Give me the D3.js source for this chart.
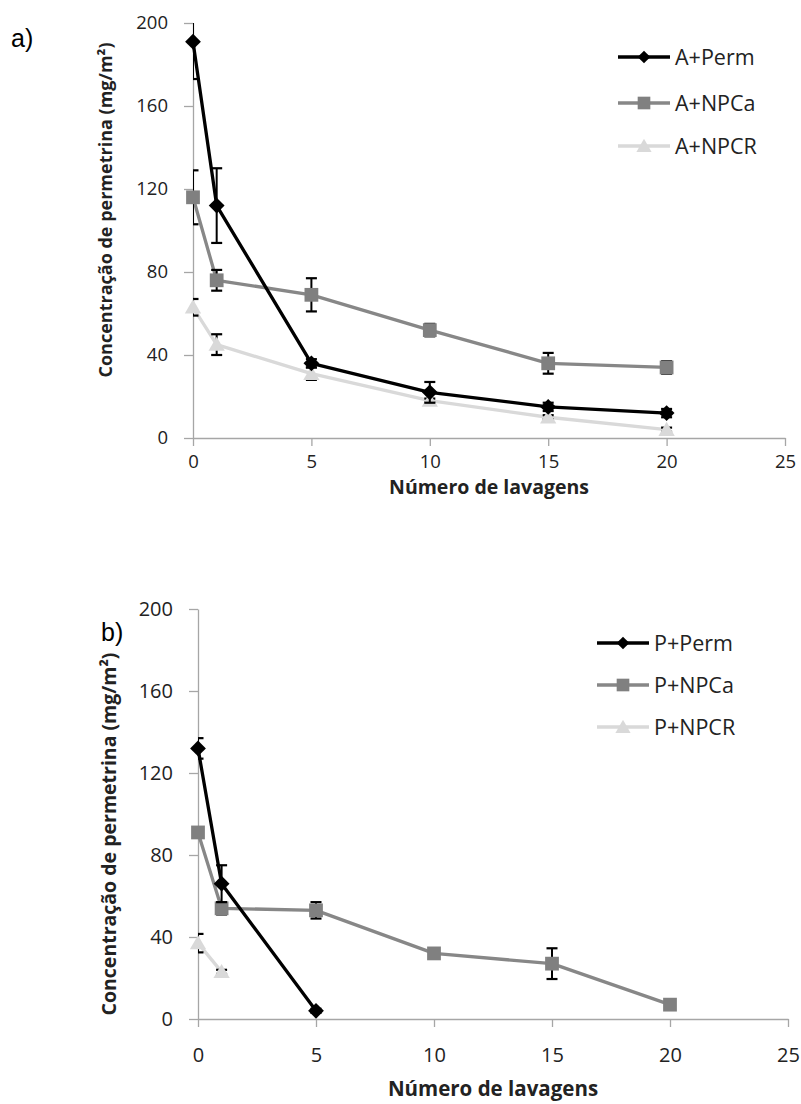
<!DOCTYPE html>
<html><head><meta charset="utf-8">
<script src="https://cdn.jsdelivr.net/npm/d3@7"></script>
<style>body{margin:0;background:#fff}svg{display:block}</style>
</head><body>
<script>
// ---- data ----
const xTicks = [0, 5, 10, 15, 20, 25];
const yTicks = [0, 40, 80, 120, 160, 200];

const xA = [0, 1, 5, 10, 15, 20];
const aPerm = [191, 112, 36, 22, 15, 12];
const aPermErr = [18, 18, 2, 5, 2, 2];
const aNPCa = [116, 76, 69, 52, 36, 34];
const aNPCaErr = [13, 5, 8, 3, 5, 3];
const aNPCR = [63, 45, 31, 18, 10, 4];
const aNPCRErr = [4, 5, 3, 1, 1, 1];

const xBPerm = [0, 1, 5];
const bPerm = [132, 66, 4];
const bPermErr = [5, 9, 1];
const xBNPCa = [0, 1, 5, 10, 15, 20];
const bNPCa = [91, 54, 53, 32, 27, 7];
const bNPCaErr = [2, 3, 4, 2, 7.5, 1];
const xBNPCR = [0, 1];
const bNPCR = [37, 23];
const bNPCRErr = [4.5, 1];

const legendA = ["A+Perm", "A+NPCa", "A+NPCR"];
const legendB = ["P+Perm", "P+NPCa", "P+NPCR"];
const panelLabels = ["a)", "b)"];
const yTitle = "Concentração de permetrina (mg/m²)";
const xTitle = "Número de lavagens";

const colors = ["#000000", "#808080", "#d9d9d9"];
const lineColors = ["#000000", "#878787", "#d9d9d9"];
const shapes = [d3.symbolSquare, d3.symbolSquare, d3.symbolTriangle];
const rotations = [45, 0, 0];

const W = 801, H = 1104;
const svg = d3.select("body").append("svg").attr("width", W).attr("height", H);
const font = "'Open Sans', 'Liberation Sans', sans-serif";

const panels = [
  {label: panelLabels[0], labelPos: [11, 47], left: 193, right: 785, top: 23, bottom: 438,
   yTitleX: 112, yTitleC: 210, yTitleSize: 18, xTitleY: 494, xTitleSize: 19.5, tickSize: 18.5, xPad: 9,
   legendX: [618, 670], legendY: [57, 103, 146], legend: legendA,
   series: [[xA, aPerm, aPermErr], [xA, aNPCa, aNPCaErr], [xA, aNPCR, aNPCRErr]]},
  {label: panelLabels[1], labelPos: [101, 641], left: 198, right: 788, top: 609, bottom: 1019,
   yTitleX: 116, yTitleC: 834, yTitleSize: 19.5, xTitleY: 1096, xTitleSize: 20.5, tickSize: 20, xPad: 21,
   legendX: [597, 649], legendY: [643, 685, 727], legend: legendB,
   series: [[xBPerm, bPerm, bPermErr], [xBNPCa, bNPCa, bNPCaErr], [xBNPCR, bNPCR, bNPCRErr]]}
];

panels.forEach((p, pi) => {
  const x = d3.scaleLinear().domain([0, 25]).range([p.left, p.right]);
  const y = d3.scaleLinear().domain([0, 200]).range([p.bottom, p.top]);
  const g = svg.append("g");
  const axisColor = "#a6a6a6";

  const xa = g.append("g").attr("transform", `translate(0,${p.bottom})`)
    .call(d3.axisBottom(x).tickValues(xTicks).tickSize(8).tickSizeOuter(0).tickPadding(p.xPad));
  const ya = g.append("g").attr("transform", `translate(${p.left},0)`)
    .call(d3.axisLeft(y).tickValues(yTicks).tickSize(9).tickSizeOuter(0).tickPadding(16));
  [xa, ya].forEach(a => {
    a.select(".domain").attr("stroke", axisColor).attr("stroke-width", 1.3);
    a.selectAll(".tick line").attr("stroke", axisColor).attr("stroke-width", 1.3);
    a.selectAll(".tick text").attr("fill", "#222").attr("font-size", p.tickSize).attr("font-family", font);
  });

  const clipId = "clip" + pi;
  svg.append("clipPath").attr("id", clipId).append("rect")
    .attr("x", p.left).attr("y", p.top).attr("width", p.right - p.left).attr("height", p.bottom - p.top);

  const line = d3.line().x(d => x(d[0])).y(d => y(d[1]));
  const sizes = [125, 190, 115];
  [2, 1, 0].forEach(si => {
    const [xs, vs, es] = p.series[si];
    const pts = xs.map((xv, i) => [xv, vs[i], es[i]]);
    g.append("path").datum(pts).attr("d", line).attr("fill", "none")
      .attr("stroke", lineColors[si]).attr("stroke-width", 3.3).attr("stroke-linejoin", "round");
    const eb = g.append("g").attr("clip-path", `url(#${clipId})`);
    pts.forEach(d => {
      const y1 = y(d[1] + d[2]), y2 = y(d[1] - d[2]), cx = x(d[0]);
      eb.append("line").attr("x1", cx).attr("x2", cx).attr("y1", y1).attr("y2", y2)
        .attr("stroke", "#000").attr("stroke-width", 2);
      [y1, y2].forEach(yy => eb.append("line").attr("x1", cx - 5.5).attr("x2", cx + 5.5)
        .attr("y1", yy).attr("y2", yy).attr("stroke", "#000").attr("stroke-width", 2.2));
    });
    g.selectAll(null).data(pts).enter().append("path")
      .attr("d", d3.symbol().type(shapes[si]).size(sizes[si]))
      .attr("transform", d => `translate(${x(d[0])},${y(d[1]) + (si === 2 ? 1.5 : 0)}) rotate(${rotations[si]})`)
      .attr("fill", colors[si]);
  });

  // legend
  p.legend.forEach((name, i) => {
    const ly = p.legendY[i];
    g.append("line").attr("x1", p.legendX[0]).attr("x2", p.legendX[1]).attr("y1", ly).attr("y2", ly)
      .attr("stroke", lineColors[i]).attr("stroke-width", 3.3);
    g.append("path").attr("d", d3.symbol().type(shapes[i]).size([80, 160, 100][i]))
      .attr("transform", `translate(${(p.legendX[0] + p.legendX[1]) / 2},${ly + (i === 2 ? 1.5 : 0)}) rotate(${rotations[i]})`)
      .attr("fill", colors[i]);
    g.append("text").attr("x", p.legendX[1] + 5).attr("y", ly).attr("dy", "0.36em")
      .attr("font-size", 21.5).attr("font-family", font).attr("fill", "#222").text(name);
  });

  // titles
  g.append("text").attr("transform", `translate(${p.yTitleX},${p.yTitleC}) rotate(-90)`)
    .attr("text-anchor", "middle").attr("font-size", p.yTitleSize).attr("font-weight", "bold")
    .attr("font-family", font).attr("fill", "#222").text(yTitle);
  g.append("text").attr("x", (p.left + p.right) / 2).attr("y", p.xTitleY)
    .attr("text-anchor", "middle").attr("font-size", p.xTitleSize).attr("font-weight", "bold")
    .attr("font-family", font).attr("fill", "#222").text(xTitle);
  g.append("text").attr("x", p.labelPos[0]).attr("y", p.labelPos[1])
    .attr("font-size", 25).attr("font-family", "'Liberation Sans', Arial, sans-serif").attr("fill", "#000").text(p.label);
});
</script>
</body></html>
